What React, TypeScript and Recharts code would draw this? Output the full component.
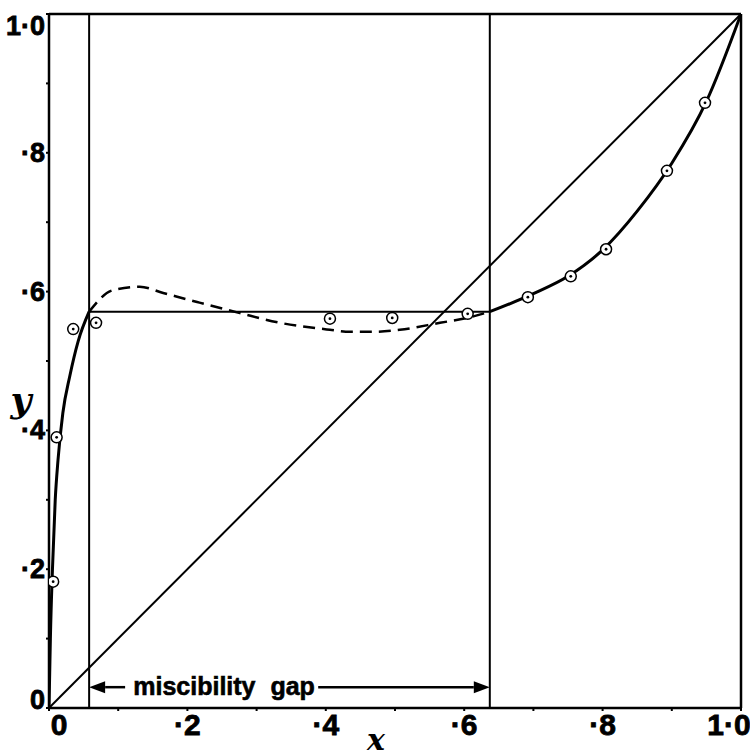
import React from 'react';
import {
  ComposedChart,
  Line,
  Scatter,
  XAxis,
  YAxis,
  ReferenceLine,
  ReferenceDot,
} from 'recharts';

// axis ticks (every 0.1, labels only on the even ones)
const TICK_VALUES = [0, 0.1, 0.2, 0.3, 0.4, 0.5, 0.6, 0.7, 0.8, 0.9, 1.0];
const TICK_LABELS = ['0', '', '·2', '', '·4', '', '·6', '', '·8', '', '1·0'];

// miscibility gap limits and tie-line level
const GAP_START = 0.058;
const GAP_END = 0.637;
const TIE_Y = 0.571;

// measured points
const pointX = [0.006, 0.011, 0.035, 0.068, 0.406, 0.496, 0.605, 0.692, 0.754, 0.805, 0.893, 0.948];
const pointY = [0.182, 0.39, 0.546, 0.555, 0.561, 0.562, 0.568, 0.592, 0.622, 0.661, 0.774, 0.872];

// solid curve, left branch
const leftX = [0, 0.001, 0.002, 0.005, 0.009, 0.013, 0.02, 0.03, 0.042, 0.058];
const leftY = [0, 0.05, 0.1, 0.2, 0.3, 0.357, 0.425, 0.478, 0.528, 0.571];

// solid curve, right branch
const rightX = [0.637, 0.7, 0.75, 0.8, 0.85, 0.9, 0.95, 1.0];
const rightY = [0.571, 0.597, 0.622, 0.66, 0.716, 0.785, 0.874, 1.0];

// dashed (unstable) curve across the gap
const dashX = [0.058, 0.092, 0.131, 0.165, 0.214, 0.276, 0.334, 0.406, 0.435, 0.468, 0.507, 0.565, 0.604, 0.637];
const dashY = [0.571, 0.602, 0.607, 0.598, 0.585, 0.569, 0.555, 0.545, 0.542, 0.542, 0.545, 0.555, 0.562, 0.571];

// diagonal y = x
const diagX = [0, 1];
const diagY = [0, 1];

// arrow "miscibility gap"
const ARROW_Y = 0.03;
const LABEL_X = 0.253;
const ARROW_LEFT_FROM = 0.11;
const ARROW_RIGHT_FROM = 0.389;

const zip = (xs: number[], ys: number[]) => xs.map((x, i) => ({ x, y: ys[i] }));

const points = zip(pointX, pointY);
const leftBranch = zip(leftX, leftY);
const rightBranch = zip(rightX, rightY);
const dashed = zip(dashX, dashY);
const diagonal = zip(diagX, diagY);

const boldStyle = { fontFamily: '"Liberation Sans", Arial, sans-serif', fontWeight: 700 };

const labelFor = (v: number) => {
  const i = TICK_VALUES.findIndex(t => Math.abs(t - v) < 1e-6);
  return i >= 0 ? TICK_LABELS[i] : '';
};

const XTick = (props: any) => {
  const { x, y, payload } = props;
  const text = labelFor(payload.value);
  if (!text) return null;
  let dx = 0;
  if (payload.value === 0) dx = 10;
  if (payload.value === 1) dx = -12;
  return (
    <text x={x + dx} y={y + 22} textAnchor="middle" style={{ ...boldStyle, fontSize: 30 }} fill="#000" stroke="#000" strokeWidth={0.8}>
      {text}
    </text>
  );
};

const YTick = (props: any) => {
  const { x, y, payload } = props;
  const text = labelFor(payload.value);
  if (!text) return null;
  let dy = 9;
  if (payload.value === 1) dy = 21;
  if (payload.value === 0) dy = 1;
  return (
    <text x={x + 1} y={y + dy} textAnchor="end" style={{ ...boldStyle, fontSize: 27 }} fill="#000" stroke="#000" strokeWidth={0.8}>
      {text}
    </text>
  );
};

const PointShape = (props: any) => {
  const { cx, cy } = props;
  return (
    <g>
      <circle cx={cx} cy={cy} r={5.5} fill="#fff" stroke="#000" strokeWidth={1.5} />
      <circle cx={cx} cy={cy} r={1.4} fill="#000" />
    </g>
  );
};

// line with a filled arrow head at its end point
const ArrowShape = (props: any) => {
  const { x1, y1, x2, y2 } = props;
  const dir = x2 > x1 ? 1 : -1;
  const len = 16;
  const half = 6;
  return (
    <g>
      <line x1={x1} y1={y1} x2={x2 - dir * len} y2={y2} stroke="#000" strokeWidth={2.5} />
      <polygon
        points={`${x2},${y2} ${x2 - dir * len},${y2 - half} ${x2 - dir * len},${y2 + half}`}
        fill="#000"
      />
    </g>
  );
};

const GapLabel = (props: any) => {
  const { viewBox } = props;
  const cx = viewBox.x + viewBox.width / 2;
  const cy = viewBox.y + viewBox.height / 2;
  return (
    <text
      x={cx}
      y={cy + 8}
      textAnchor="middle"
      style={{ ...boldStyle, fontSize: 25, wordSpacing: 8 }}
      fill="#000"
      stroke="#000"
      strokeWidth={0.6}
    >
      miscibility gap
    </text>
  );
};

const App: React.FC = () => {
  return (
    <div style={{ position: 'absolute', left: 0, top: 0, width: 750, height: 756, background: '#fff' }}>
      <ComposedChart width={750} height={756} margin={{ top: 14, right: 9, left: 0, bottom: 0 }}>
        <XAxis
          dataKey="x"
          type="number"
          domain={[0, 1]}
          ticks={TICK_VALUES}
          tick={<XTick />}
          tickSize={3}
          tickLine={{ stroke: '#000', strokeWidth: 2 }}
          axisLine={{ stroke: '#000', strokeWidth: 2.5 }}
          height={48}
          interval={0}
          allowDataOverflow
        />
        <YAxis
          dataKey="y"
          type="number"
          domain={[0, 1]}
          ticks={TICK_VALUES}
          tick={<YTick />}
          tickSize={3}
          tickLine={{ stroke: '#000', strokeWidth: 2 }}
          axisLine={{ stroke: '#000', strokeWidth: 2.5 }}
          width={49}
          interval={0}
          allowDataOverflow
        />

        {/* frame: top and right */}
        <ReferenceLine y={1} stroke="#000" strokeWidth={2.5} />
        <ReferenceLine x={1} stroke="#000" strokeWidth={2.5} />

        {/* gap limits and tie line */}
        <ReferenceLine x={GAP_START} stroke="#000" strokeWidth={2} />
        <ReferenceLine x={GAP_END} stroke="#000" strokeWidth={2} />
        <ReferenceLine
          segment={[{ x: GAP_START, y: TIE_Y }, { x: GAP_END, y: TIE_Y }]}
          stroke="#000"
          strokeWidth={2}
        />

        {/* miscibility gap arrows */}
        <ReferenceLine
          segment={[{ x: ARROW_LEFT_FROM, y: ARROW_Y }, { x: GAP_START, y: ARROW_Y }]}
          shape={<ArrowShape />}
        />
        <ReferenceLine
          segment={[{ x: ARROW_RIGHT_FROM, y: ARROW_Y }, { x: GAP_END, y: ARROW_Y }]}
          shape={<ArrowShape />}
        />
        <ReferenceDot x={LABEL_X} y={ARROW_Y} r={0} fill="none" stroke="none" label={<GapLabel />} />

        <Line data={diagonal} dataKey="y" type="linear" stroke="#000" strokeWidth={2} dot={false} isAnimationActive={false} />
        <Line data={leftBranch} dataKey="y" type="monotone" stroke="#000" strokeWidth={3} dot={false} isAnimationActive={false} />
        <Line data={rightBranch} dataKey="y" type="monotone" stroke="#000" strokeWidth={3} dot={false} isAnimationActive={false} />
        <Line
          data={dashed}
          dataKey="y"
          type="monotone"
          stroke="#000"
          strokeWidth={2.5}
          strokeDasharray="12 7"
          dot={false}
          isAnimationActive={false}
        />
        <Scatter data={points} dataKey="y" shape={<PointShape />} isAnimationActive={false} />

        {/* axis titles */}
        <text x={21} y={412} textAnchor="middle" fontFamily='"DejaVu Serif", serif' fontStyle="italic" fontWeight="bold" fontSize={36} fill="#000">
          y
        </text>
        <text x={376} y={750} textAnchor="middle" fontFamily='"DejaVu Serif", serif' fontStyle="italic" fontWeight="bold" fontSize={30} fill="#000">
          x
        </text>
      </ComposedChart>
    </div>
  );
};

export default App;
